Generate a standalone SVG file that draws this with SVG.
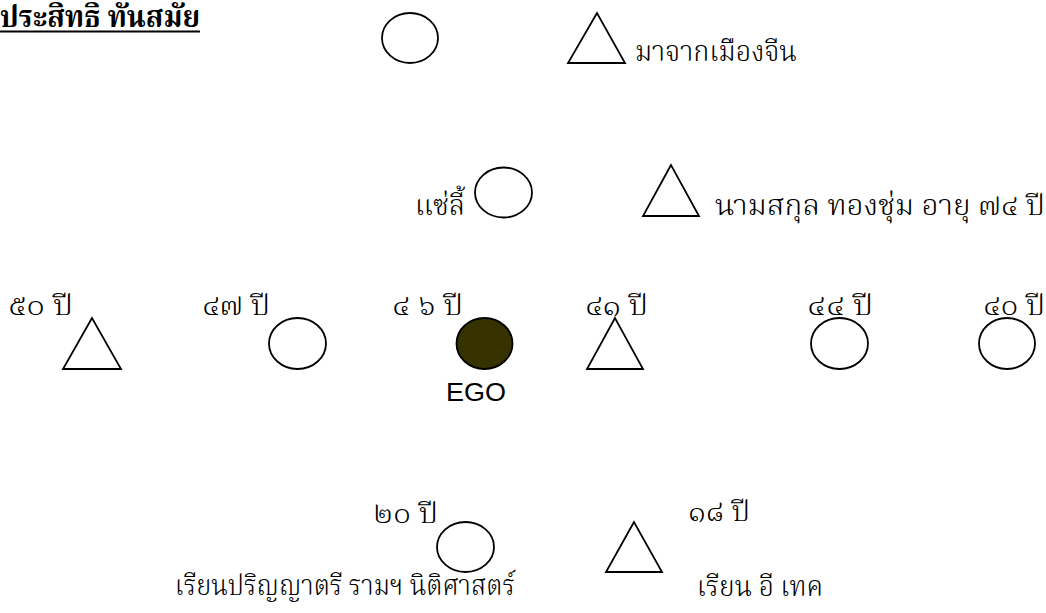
<svg xmlns="http://www.w3.org/2000/svg" width="1046" height="613" viewBox="0 0 1046 613">
<style>
.s{fill:#fff;stroke:#000;stroke-width:1.8}
.t{font-family:'Liberation Serif','Noto Serif Thai','Noto Sans Thai',serif;font-size:28px;font-weight:300;fill:#000}
.e{font-family:'Liberation Sans',Arial,sans-serif;font-size:25px;fill:#000}
</style>
<rect width="1046" height="613" fill="#fff"/>
<g id="title">
<text class="t" x="0" y="27" style="font-weight:bold;font-size:30px" textLength="200" lengthAdjust="spacingAndGlyphs">ประสิทธิ ทันสมัย</text>
<line x1="0" y1="31.5" x2="200" y2="31.5" stroke="#000" stroke-width="2"/>
</g>
<g id="gen1-female"><ellipse class="s" cx="410" cy="38" rx="28" ry="25"/></g>
<g id="gen1-male">
<polygon class="s" points="597,13 568,63 625,63"/>
<text class="t" x="635" y="61" textLength="162" lengthAdjust="spacingAndGlyphs">มาจากเมืองจีน</text>
</g>
<g id="gen2-female">
<text class="t" x="415" y="215" textLength="50" lengthAdjust="spacingAndGlyphs">แซ่ลี้</text>
<ellipse class="s" cx="503.5" cy="192.5" rx="28.5" ry="25"/>
</g>
<g id="gen2-male">
<polygon class="s" points="671,165 643,216 699,216"/>
<text class="t" x="715" y="215" textLength="330" lengthAdjust="spacingAndGlyphs">นามสกุล ทองชุ่ม  อายุ ๗๔ ปี</text>
</g>
<g id="sib1">
<text class="t" x="8" y="315" textLength="65" lengthAdjust="spacingAndGlyphs">๕๐ ปี</text>
<polygon class="s" points="92,318 63,369 121,369"/>
</g>
<g id="sib2">
<text class="t" x="202" y="315" textLength="68" lengthAdjust="spacingAndGlyphs">๔๗ ปี</text>
<ellipse class="s" cx="297.5" cy="343.5" rx="28.5" ry="25.5"/>
</g>
<g id="ego">
<text class="t" x="392" y="315" textLength="71" lengthAdjust="spacingAndGlyphs">๔ ๖ ปี</text>
<ellipse cx="484.5" cy="343.5" rx="28" ry="25.5" fill="#363200" stroke="#000" stroke-width="1.8"/>
<text class="e" x="446" y="401" textLength="60" lengthAdjust="spacingAndGlyphs">EGO</text>
</g>
<g id="sib4">
<text class="t" x="585" y="315" textLength="63" lengthAdjust="spacingAndGlyphs">๔๑ ปี</text>
<polygon class="s" points="615,318 587,369 643,369"/>
</g>
<g id="sib5">
<text class="t" x="807" y="315" textLength="66" lengthAdjust="spacingAndGlyphs">๔๔ ปี</text>
<ellipse class="s" cx="839.5" cy="343.5" rx="28.5" ry="25.5"/>
</g>
<g id="sib6">
<text class="t" x="983" y="315" textLength="62" lengthAdjust="spacingAndGlyphs">๔๐ ปี</text>
<ellipse class="s" cx="1007" cy="343.5" rx="28" ry="25.5"/>
</g>
<g id="child1">
<text class="t" x="373" y="523" textLength="65" lengthAdjust="spacingAndGlyphs">๒๐ ปี</text>
<ellipse class="s" cx="465.5" cy="547" rx="28.5" ry="25"/>
<text class="t" x="175" y="595" textLength="340" lengthAdjust="spacingAndGlyphs">เรียนปริญญาตรี รามฯ นิติศาสตร์</text>
</g>
<g id="child2">
<polygon class="s" points="634,522 606,572 662,572"/>
<text class="t" x="688" y="521" textLength="62" lengthAdjust="spacingAndGlyphs">๑๘ ปี</text>
<text class="t" x="697" y="596" textLength="126" lengthAdjust="spacingAndGlyphs">เรียน อี เทค</text>
</g>
<g id="connectors"/>
</svg>
